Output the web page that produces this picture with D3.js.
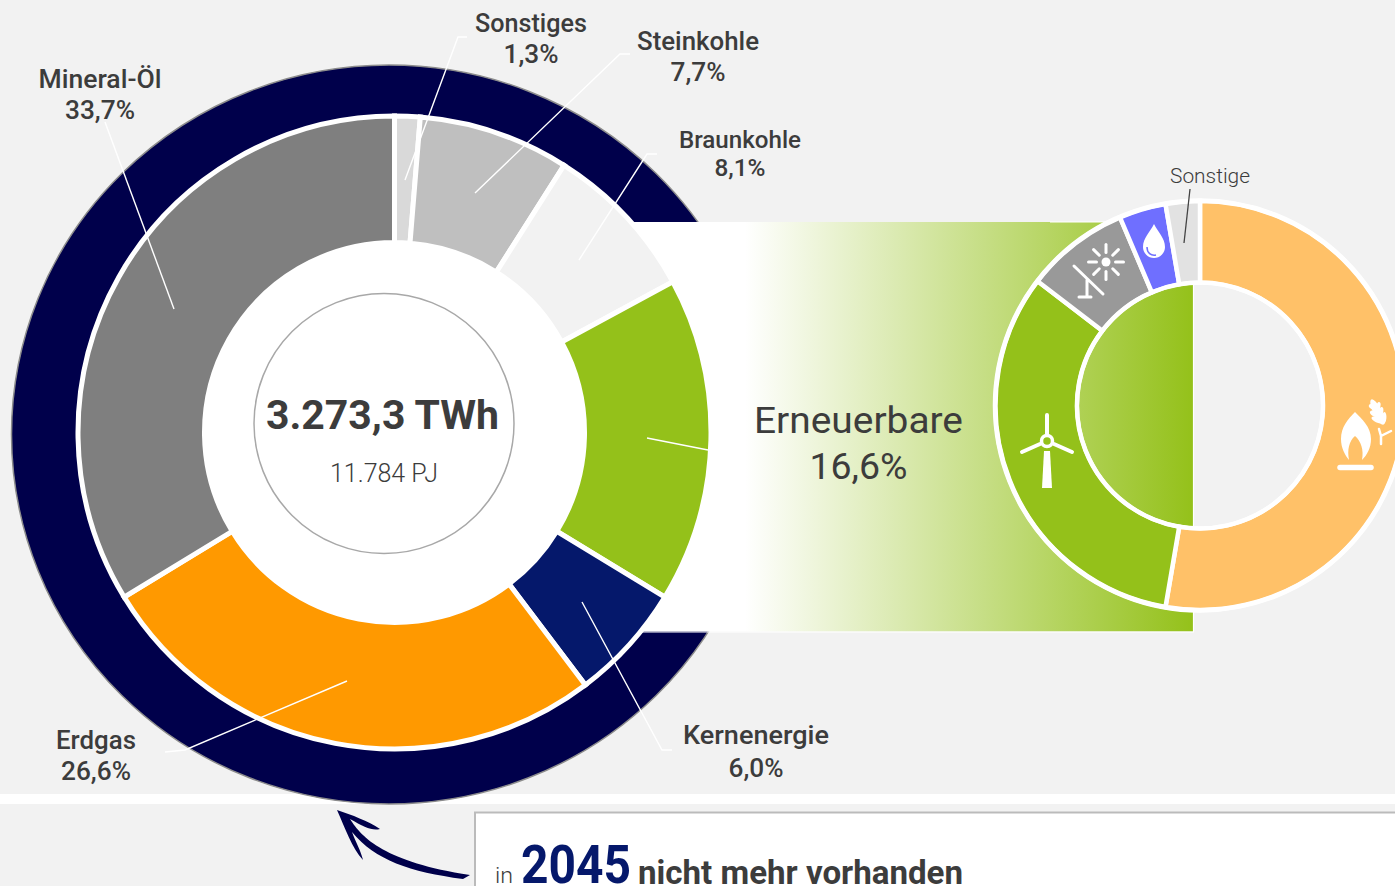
<!DOCTYPE html>
<html><head><meta charset="utf-8">
<script src="https://cdn.jsdelivr.net/npm/d3@7"></script>
<style>html,body{margin:0;padding:0;background:#f2f2f2;overflow:hidden}svg{display:block}text{font-family:Roboto,"Noto Sans",sans-serif;fill:#3c3c3c}</style>
</head><body><svg id="c" width="1395" height="886"></svg>
<script>
// data
const mainCategories = ["Sonstiges","Steinkohle","Braunkohle","Erneuerbare","Kernenergie","Erdgas","Mineral-Öl"];
const mainValues = [1.3,7.7,8.1,16.6,6.0,26.6,33.7];
const mainColors = ["#d9d9d9","#bfbfbf","#f2f2f2","#94c11a","#05186b","#ff9900","#7f7f7f"];
const renewableCategories = ["Biomasse","Wind","Solar","Wasser","Sonstige"];
const renewableValues = [52.7,32.7,8.2,3.7,2.7];
const renewableColors = ["#ffc168","#94c11a","#999999","#6f6fff","#e2e2e2"];
const mainLabels = ["Sonstiges","Steinkohle","Braunkohle","Mineral-Öl","Erdgas","Kernenergie"];
const mainPercents = ["1,3%","7,7%","8,1%","33,7%","26,6%","6,0%"];

// layout
const W=1395,H=886;
const svg=d3.select("#c");
const defs=svg.append("defs");
const grad=defs.append("linearGradient").attr("id","g").attr("gradientUnits","userSpaceOnUse")
  .attr("x1",745).attr("x2",1193).attr("y1",0).attr("y2",0);
grad.append("stop").attr("offset",0).attr("stop-color","#fff");
grad.append("stop").attr("offset",1).attr("stop-color","#94c11a");

svg.append("rect").attr("width",W).attr("height",H).attr("fill","#f2f2f2");
svg.append("rect").attr("y",794).attr("width",W).attr("height",10).attr("fill","#fff");

// 2045 ring
svg.append("ellipse").attr("cx",389).attr("cy",434.5).attr("rx",377.5).attr("ry",369.5)
  .attr("fill","#00004b").attr("stroke","#8c8c8c").attr("stroke-width",1.5);

// connector band
svg.append("rect").attr("x",560).attr("y",222).attr("width",633).attr("height",409.5)
  .attr("fill","url(#g)");
svg.append("path").attr("d","M1050,222H1193.5V632H640").attr("fill","none").attr("stroke","#fff").attr("stroke-width",1.2);

// main donut
const pie=d3.pie().sort(null).value(d=>d);
const mainG=svg.append("g").attr("transform","translate(394.5,432.5)");
mainG.append("circle").attr("r",318).attr("fill","#fff");
const mainArc=d3.arc().innerRadius(190).outerRadius(316.5);
mainG.selectAll("path").data(pie(mainValues)).join("path")
  .attr("d",mainArc).attr("fill",(d,i)=>mainColors[i]).attr("stroke","#fff").attr("stroke-width",5);

// centre
svg.append("circle").attr("cx",384).attr("cy",423.5).attr("r",130).attr("fill","#fff").attr("stroke","#a8a8a8").attr("stroke-width",1.5);
function txt(s,x,y,size,weight,len,color,anchor){
  const t=svg.append("text").attr("x",x).attr("y",y).attr("font-size",size).attr("font-weight",weight)
    .attr("text-anchor",anchor||"middle").text(s);
  if(len)t.attr("textLength",len).attr("lengthAdjust","spacingAndGlyphs");
  if(color)t.style("fill",color);
  return t;
}
txt("3.273,3 TWh",382.5,429,41,700,233);
txt("11.784 PJ",384,482,25,300,108);

// right donut
const rG=svg.append("g").attr("transform","translate(1200,405.5)");
const rArc=d3.arc().innerRadius(123).outerRadius(204.5);
rG.selectAll("path").data(pie(renewableValues)).join("path")
  .attr("d",rArc).attr("fill",(d,i)=>renewableColors[i]).attr("stroke","#fff").attr("stroke-width",4.5);
rG.append("circle").attr("r",205).attr("fill","none").attr("stroke","#fff").attr("stroke-width",4.5);
rG.append("circle").attr("r",123).attr("fill","none").attr("stroke","#fff").attr("stroke-width",4);

// icons
const icon=svg.append("g").attr("fill","none").attr("stroke","#fff").attr("stroke-linecap","round");
// turbine
icon.append("circle").attr("cx",1047).attr("cy",441).attr("r",5.5).attr("stroke-width",3.5);
icon.append("path").attr("stroke-width",4).attr("d","M1047,434V415M1040,444L1022,452M1054,444L1072,452");
icon.append("path").attr("stroke","none").attr("fill","#fff").attr("d","M1044,451H1050L1052,488H1042Z");
// solar
const sun=icon.append("g").attr("transform","translate(1106,262)");
sun.append("circle").attr("r",4.5).attr("fill","#fff").attr("stroke","none");
d3.range(8).forEach(i=>{const a=i*Math.PI/4;
  sun.append("line").attr("x1",9.5*Math.cos(a)).attr("y1",9.5*Math.sin(a)).attr("x2",17.5*Math.cos(a)).attr("y2",17.5*Math.sin(a)).attr("stroke-width",3);});
icon.append("path").attr("stroke-width",3).attr("d","M1074,266L1103,294M1087,280V297M1079,297H1091");
// drop
svg.append("path").attr("fill","#fff").attr("d","M1154,224C1150,232 1143,238 1143,247A11,11 0 0 0 1165,247C1165,238 1158,232 1154,224Z");
svg.append("path").attr("fill","none").attr("stroke","#6f6fff").attr("stroke-width",1.5).attr("d","M1147,247C1147,253 1151,256 1156,255");
// flame
svg.append("path").attr("fill","#fff").attr("d","M1355,412C1348,419 1341,427 1341,439C1341,448 1345,455 1349,460C1347,450 1349,441 1355,436C1361,441 1364,450 1362,460C1367,455 1371,448 1371,439C1371,427 1362,419 1355,412Z");
icon.append("path").attr("stroke-width",5.5).attr("d","M1340,467.5H1371");
// wheat
const wheat=svg.append("g").attr("fill","#fff");
[[1377.5,412,-26,4.2,14],[1372.5,407,-60,2.2,4],[1374.5,414,-60,2.5,5],[1377,420,-65,2.5,6],[1378.5,406,10,2,4],[1381,412,10,2.2,5],[1384,418,5,2.4,6]].forEach(e=>{
  wheat.append("ellipse").attr("rx",e[3]).attr("ry",e[4]).attr("transform",`translate(${e[0]},${e[1]}) rotate(${e[2]})`);
});
icon.append("path").attr("stroke-width",2.5).attr("d","M1381,444V436L1391,431M1381,436L1379,429");

// leaders
const leaders=[
 [[405,180],[458,37],[467,37]],
 [[475,193],[620,54],[630,54]],
 [[579,260],[647,154],[657,154]],
 [[174,309],[105,122]],
 [[347,681],[185,750],[165,752]],
 [[582,602],[662,750],[672,750]],
 [[647,438],[708,450]]
];
const ln=d3.line();
svg.append("g").selectAll("path").data(leaders).join("path")
  .attr("d",d=>ln(d)).attr("fill","none").attr("stroke","#fff").attr("stroke-width",1.4);

// labels
const labelPos=[[531,32,63,26,112],[698,50,81,26,122],[740,148,176,24,122],[100,88,119,26,123],[96,749,780,26,80],[756,744,777,25,146]];
const pctW=[55,55,51,70,70,55];
mainLabels.forEach((s,i)=>{const p=labelPos[i];
  txt(s,p[0],p[1],p[3],500,p[4]);
  txt(mainPercents[i],p[0],p[2],p[3],500,pctW[i]);
});
txt("Erneuerbare",858.5,433,37,400,209);
txt("16,6%",858.5,479,37,400,98);
txt("Sonstige",1210,183,20,300,80);
svg.append("line").attr("x1",1190).attr("y1",189).attr("x2",1184).attr("y2",243).attr("stroke","#444").attr("stroke-width",1.3);

// note box
svg.append("rect").attr("x",475).attr("y",812.5).attr("width",1000).attr("height",200).attr("fill","#fff").attr("stroke","#bbb").attr("stroke-width",2);
txt("in",495,883,22,300,18,null,"start");
txt("2045",521,883,54,700,110,"#05186b","start");
txt("nicht mehr vorhanden",638,884,33,700,325,null,"start");

// arrow
svg.append("path").attr("fill","#00004b").attr("d","M337,810C352,815 368,821 380,829C372,831 364,827 350,819C362,838 385,862 470,875L463,879C410,872 375,860 352,832C356,843 361,851 363,860C352,848 345,828 337,810Z");
</script></body></html>
